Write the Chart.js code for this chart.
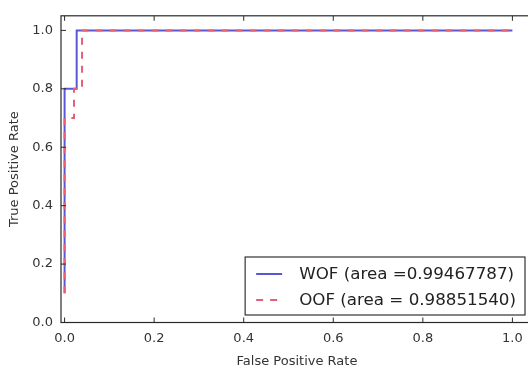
<!DOCTYPE html>
<html><head><meta charset="utf-8">
<script src="https://cdn.jsdelivr.net/npm/chart.js@4/dist/chart.umd.min.js"></script>
<style>
html,body{margin:0;padding:0;background:#fff;overflow:hidden;width:528px;height:369px}
#wrap{width:540px;height:369px;position:relative;overflow:hidden}
canvas{display:block}
</style></head>
<body><div id="wrap"><canvas id="c" width="540" height="369"></canvas></div>
<script>
// ---- data ----
const seriesNames = ['WOF (area =0.99467787)', 'OOF (area = 0.98851540)'];
const wofFpr = [0, 0, 0.027, 0.027, 1.0];
const wofTpr = [0.1, 0.8, 0.8, 1.0, 1.0];
const oofFpr = [0, 0, 0.021, 0.021, 0.039, 0.039, 1.0];
const oofTpr = [0.1, 0.7, 0.7, 0.8, 0.8, 1.0, 1.0];
const xTicks = [0.0, 0.2, 0.4, 0.6, 0.8, 1.0];
const xTickLabels = ['0.0', '0.2', '0.4', '0.6', '0.8', '1.0'];
const yTicks = [0.0, 0.2, 0.4, 0.6, 0.8, 1.0];
const yTickLabels = ['0.0', '0.2', '0.4', '0.6', '0.8', '1.0'];
const xTitle = 'False Positive Rate';
const yTitle = 'True Positive Rate';

const FONT = "'DejaVu Sans', 'Liberation Sans', sans-serif";
const TXT = '#333333';

const toPts = (xs, ys) => xs.map((x, i) => ({x: x, y: ys[i]}));

const mplPlugin = {
  id: 'mpl',
  afterDatasetsDraw(chart) {
    const ctx = chart.ctx;
    const a = chart.chartArea;
    const xs = chart.scales.x, ys = chart.scales.y;
    ctx.save();
    // frame
    ctx.strokeStyle = '#2a2a2a';
    ctx.lineWidth = 1.2;
    ctx.strokeRect(a.left, a.top, a.right - a.left, a.bottom - a.top);
    // inward ticks
    ctx.lineWidth = 1;
    const tl = 5;
    ctx.beginPath();
    xTicks.forEach(v => {
      const p = xs.getPixelForValue(v);
      ctx.moveTo(p, a.bottom); ctx.lineTo(p, a.bottom - tl);
      ctx.moveTo(p, a.top); ctx.lineTo(p, a.top + tl);
    });
    yTicks.forEach(v => {
      const p = ys.getPixelForValue(v);
      ctx.moveTo(a.left, p); ctx.lineTo(a.left + tl, p);
      ctx.moveTo(a.right, p); ctx.lineTo(a.right - tl, p);
    });
    ctx.stroke();

    // legend (lower right, inside axes)
    ctx.font = '16.7px ' + FONT;
    const ds = chart.data.datasets;
    const tw = Math.max(...ds.map(d => ctx.measureText(d.label).width));
    const padL = 11, handle = 26, gap = 17, padR = 9;
    const right = a.right - 8, bottom = a.bottom - 7.5;
    const w = padL + handle + gap + tw + padR;
    const h = 58;
    const left = right - w, top = bottom - h;
    ctx.fillStyle = '#ffffff';
    ctx.fillRect(left, top, w, h);
    ctx.strokeStyle = '#333333';
    ctx.lineWidth = 1.2;
    ctx.strokeRect(left, top, w, h);
    const rows = [top + 17, top + 43];
    ds.forEach((d, i) => {
      const y = rows[i];
      ctx.strokeStyle = d.borderColor;
      ctx.lineWidth = d.borderWidth;
      ctx.setLineDash(d.borderDash || []);
      ctx.beginPath();
      ctx.moveTo(left + padL, y);
      ctx.lineTo(left + padL + handle, y);
      ctx.stroke();
      ctx.setLineDash([]);
      ctx.fillStyle = '#222222';
      ctx.textAlign = 'left';
      ctx.textBaseline = 'middle';
      ctx.fillText(d.label, left + padL + handle + gap, y + 1);
    });
    ctx.restore();
  }
};

new Chart(document.getElementById('c'), {
  type: 'scatter',
  data: {
    datasets: [
      {label: seriesNames[0], data: toPts(wofFpr, wofTpr), showLine: true,
       borderColor: '#5858d4', backgroundColor: '#5858d4', borderWidth: 2,
       pointRadius: 0, tension: 0, fill: false, order: 1},
      {label: seriesNames[1], data: toPts(oofFpr, oofTpr), showLine: true,
       borderColor: '#e2607c', backgroundColor: '#e2607c', borderWidth: 2,
       borderDash: [7, 7], pointRadius: 0, tension: 0, fill: false, order: 0}
    ]
  },
  options: {
    responsive: false,
    animation: false,
    devicePixelRatio: 1,
    layout: {padding: {left: 7, top: 7.5, right: 7, bottom: 0}},
    plugins: {legend: {display: false}, tooltip: {enabled: false}},
    scales: {
      x: {
        type: 'linear', position: 'bottom', min: -0.008, max: 1.046,
        afterBuildTicks: s => { s.ticks = xTicks.map(v => ({value: v})); },
        afterFit: s => { s.height = 46.5; },
        grid: {display: false, drawTicks: false},
        border: {display: false},
        ticks: {padding: 8, color: TXT, font: {family: FONT, size: 13},
                maxRotation: 0, autoSkip: false,
                callback: (v, i) => xTickLabels[i]},
        title: {display: true, text: xTitle, color: TXT, padding: 0,
                font: {family: FONT, size: 13}}
      },
      y: {
        type: 'linear', position: 'left', min: 0, max: 1.05,
        afterBuildTicks: s => { s.ticks = yTicks.map(v => ({value: v})); },
        afterFit: s => { s.width = 54; },
        grid: {display: false, drawTicks: false},
        border: {display: false},
        ticks: {padding: 8, color: TXT, font: {family: FONT, size: 13},
                autoSkip: false,
                callback: (v, i) => yTickLabels[i]},
        title: {display: true, text: yTitle, color: TXT, padding: 0,
                font: {family: FONT, size: 13}}
      }
    }
  },
  plugins: [mplPlugin]
});
</script>
</body></html>
